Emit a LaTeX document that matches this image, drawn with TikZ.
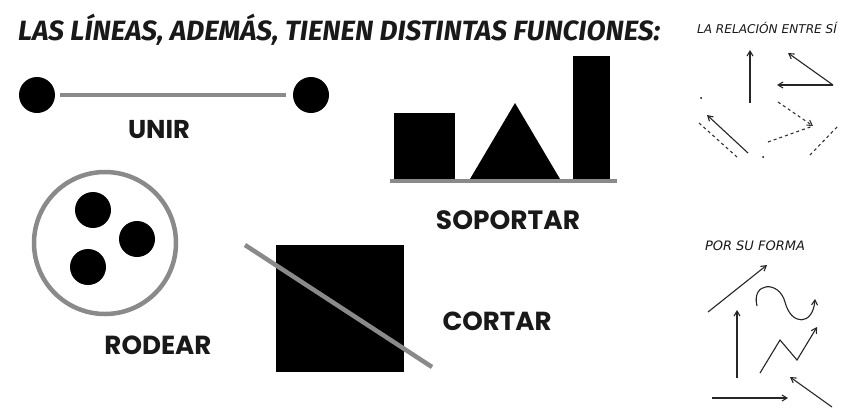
\documentclass[tikz,border=0pt]{standalone}
\usepackage{fontspec}
\setmainfont{Poppins}
\newfontfamily\titlefont{Fira Sans}
\newfontfamily\handfont{DejaVu Sans}
\usetikzlibrary{arrows.meta}
\definecolor{linegray}{HTML}{8A8A8A}
\tikzset{
  dot/.style={circle,fill=black,draw=none,inner sep=0pt,minimum size=#1},
  grayline/.style={draw=linegray,line width=4.5pt},
  lbl/.style={inner sep=0pt,text=black!90},
  thinarrow/.style={draw=black!85,line width=1.1pt,-{Straight Barb[length=5pt,width=6pt]}},
  dashline/.style={draw=black!80,line width=1.1pt,dash pattern=on 3pt off 3pt},
}
\newcommand{\fitw}[2]{\resizebox{#1}{!}{#2}}
\begin{document}
\begin{tikzpicture}[x=1pt,y=-1pt]
\useasboundingbox (0,0) rectangle (842,408);
\fill[white] (0,0) rectangle (842,408);
% title
\node[lbl,anchor=west] (title) at (18,30) {\fitw{642pt}{\titlefont\bfseries\itshape LAS LÍNEAS, ADEMÁS, TIENEN DISTINTAS FUNCIONES:}};
% UNIR
\node[dot=36pt] (ua) at (37,95) {};
\node[dot=36pt] (ub) at (311,95) {};
\draw[grayline] ([xshift=5pt]ua.east) -- ([xshift=-7pt]ub.west);
\node[lbl] (unir) at (159,130) {\fitw{62pt}{\bfseries UNIR}};
% RODEAR
\node[circle,draw=linegray,line width=4.5pt,minimum size=142pt,inner sep=0pt] (ring) at (105,243) {};
\node[dot=36pt] (d1) at (93,210) {};
\node[dot=36pt] (d2) at (137,239) {};
\node[dot=36pt] (d3) at (88,267) {};
\node[lbl] (rodear) at (158,345) {\fitw{107pt}{\bfseries RODEAR}};
% SOPORTAR
\fill (394,113) rectangle (455,179);
\fill (470,179) -- (515,103) -- (560,179) -- cycle;
\fill (573,56) rectangle (610,179);
\draw[draw=linegray,line width=4pt] (390,181) -- (617,181);
\node[lbl] (soportar) at (508,220) {\fitw{144pt}{\bfseries SOPORTAR}};
% CORTAR
\fill (276,245) rectangle (404,372);
\coordinate (c1) at (245,245);
\coordinate (c2) at (432,367);
\draw[grayline] (c1) -- (c2);
\node[lbl] (cortar) at (497,321) {\fitw{109pt}{\bfseries CORTAR}};
% right panel: la relación entre sí
\node[lbl] (rel) at (767,28) {\fitw{140pt}{\handfont\itshape LA RELACIÓN ENTRE SÍ}};
\coordinate (r1a) at (750,103); \coordinate (r1b) at (750,50);
\draw[thinarrow] (r1a) -- (r1b);
\coordinate (r2) at (833,85); \coordinate (r2a) at (788,53); \coordinate (r2b) at (777,85);
\draw[thinarrow] (r2) -- (r2a);
\draw[thinarrow] (r2) -- (r2b);
\coordinate (r3a) at (778,102); \coordinate (r3c) at (813,126); \coordinate (r3b) at (768,142);
\draw[dashline,-{Straight Barb[length=5pt,width=6pt]}] (r3a) -- (r3c);
\draw[dashline] (r3b) -- (r3c);
\coordinate (r4a) at (748,153); \coordinate (r4b) at (707,115);
\draw[thinarrow] (r4a) -- (r4b);
\coordinate (r5a) at (699,123); \coordinate (r5b) at (737,157);
\draw[dashline] (r5a) -- (r5b);
\fill (701,98) circle (1pt);
\fill (763,157) circle (1pt);
\coordinate (r6a) at (837,127); \coordinate (r6b) at (810,155);
\draw[dashline] (r6a) -- (r6b);
% right panel: por su forma
\node[lbl] (forma) at (755,246) {\fitw{100pt}{\handfont\itshape POR SU FORMA}};
\coordinate (f1a) at (708,312); \coordinate (f1b) at (767,265);
\draw[thinarrow] (f1a) -- (f1b);
\coordinate (f2a) at (737,378); \coordinate (f2b) at (737,310);
\draw[thinarrow] (f2a) -- (f2b);
\coordinate (f3a) at (757,306); \coordinate (f3m) at (785,302); \coordinate (f3b) at (815,299);
\draw[thinarrow] (f3a) .. controls (751,282) and (779,280) .. (f3m) .. controls (791,326) and (813,326) .. (f3b);
\coordinate (f4a) at (760,373); \coordinate (f4b) at (780,340); \coordinate (f4c) at (797,360); \coordinate (f4d) at (817,327);
\draw[thinarrow] (f4a) -- (f4b) -- (f4c) -- (f4d);
\coordinate (f5a) at (712,398); \coordinate (f5b) at (788,398);
\draw[thinarrow] (f5a) -- (f5b);
\coordinate (f6a) at (832,407); \coordinate (f6b) at (790,377);
\draw[thinarrow] (f6a) -- (f6b);
\end{tikzpicture}
\end{document}
